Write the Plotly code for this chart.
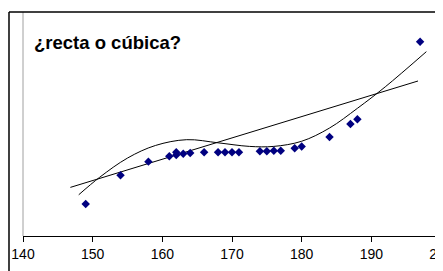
import plotly.graph_objects as go

# Observed data points
x_data = [149, 154, 158, 161, 162, 162, 163, 164, 166, 168, 169, 170, 171,
          174, 175, 176, 177, 179, 180, 184, 187, 188, 197]
y_data = [14.3, 27.1, 33.2, 35.6, 36.2, 37.4, 36.7, 37.1, 37.4, 37.4, 37.4, 37.4, 37.4,
          37.8, 37.8, 38.1, 38.1, 39.2, 40.0, 44.2, 50.0, 52.1, 86.7]

# Straight-line trend
lin_x = [146.8, 196.7]
lin_y = [21.7, 69.2]

# Cubic trend
cub_x = [148.0, 151.0, 155.0, 159.0, 163.5, 168.0, 172.5, 176.0, 180.0, 184.0, 188.0, 192.0, 197.9]
cub_y = [18.4, 26.2, 34.8, 40.4, 43.0, 41.6, 40.0, 40.0, 42.3, 48.2, 57.0, 66.6, 82.3]

x_ticks = [140, 150, 160, 170, 180, 190, 200]
title_text = "¿recta o cúbica?"

fig = go.Figure()
fig.add_trace(go.Scatter(x=lin_x, y=lin_y, mode="lines",
                         line=dict(color="black", width=1), hoverinfo="skip"))
fig.add_trace(go.Scatter(x=cub_x, y=cub_y, mode="lines",
                         line=dict(color="black", width=1, shape="spline", smoothing=1.0),
                         hoverinfo="skip"))
fig.add_trace(go.Scatter(x=x_data, y=y_data, mode="markers",
                         marker=dict(symbol="diamond", size=6.5, color="#000080",
                                     line=dict(width=0))))

# page body has an 8px default margin, so the figure is sized to fit inside it
fig.update_layout(
    width=435, height=263,
    margin=dict(l=15, r=2, t=4, b=35, autoexpand=False),
    paper_bgcolor="white", plot_bgcolor="white",
    showlegend=False,
    font=dict(family="Liberation Sans, Arial, sans-serif", color="black"),
    xaxis=dict(range=[140, 200], tickvals=x_ticks, ticktext=[str(v) for v in x_ticks],
               showgrid=False, zeroline=False, showline=True, linecolor="black",
               linewidth=1, ticks="outside", ticklen=5, tickcolor="black",
               automargin=False, ticklabeloverflow="allow",
               tickfont=dict(size=14, color="black")),
    yaxis=dict(range=[0, 100], showgrid=False, zeroline=False, showticklabels=False,
               showline=False, automargin=False),
    annotations=[dict(text="<b>" + title_text + "</b>", xref="paper", yref="paper",
                      x=0.022, y=0.862, xanchor="left", yanchor="middle",
                      showarrow=False, font=dict(size=18.5, color="black"))],
    shapes=[
        # plot-area border (gray left/right)
        dict(type="line", xref="paper", yref="paper", x0=0, x1=0, y0=0, y1=1,
             line=dict(color="#a0a0a0", width=1)),
        dict(type="line", xref="paper", yref="paper", x0=1, x1=1, y0=0, y1=1,
             line=dict(color="#a0a0a0", width=1)),
        # chart-area border (black left/top)
        dict(type="line", xref="paper", yref="paper", x0=-0.0335, x1=-0.0335, y0=-0.2, y1=1,
             line=dict(color="black", width=1.5)),
        dict(type="line", xref="paper", yref="paper", x0=-0.0335, x1=1.1, y0=1, y1=1,
             line=dict(color="black", width=1.5)),
    ],
)

fig.write_html("out.html")
